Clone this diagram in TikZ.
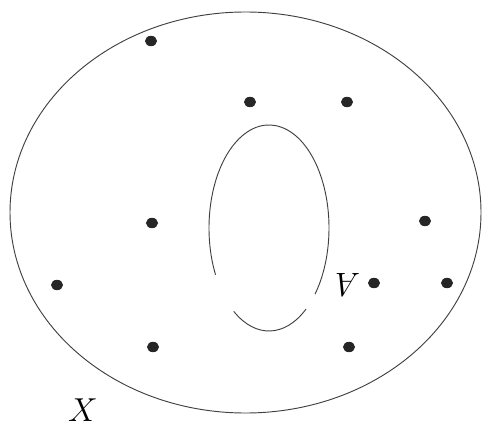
\documentclass[tikz,border=0pt]{standalone}
\usetikzlibrary{calc}
\begin{document}
\begin{tikzpicture}[x=0.75pt,y=-0.75pt,
  curve/.style={draw=black!75,line width=0.7pt},
  pt/.style={fill=black!85},
  lab/.style={font=\fontsize{28}{28}\selectfont, inner sep=0pt}]
\useasboundingbox (0,0) rectangle (484,427);
% outer set X
\draw[curve] (245.5,212.5) ellipse [x radius=235.5, y radius=200.5];
% inner set A (with gaps as in the reference)
\coordinate (c) at (269,228);
\draw[curve] ($(c)+(-207:60 and 103)$) arc[start angle=-207, end angle=40, x radius=60, y radius=103];
\draw[curve] ($(c)+(52:60 and 103)$) arc[start angle=52, end angle=126, x radius=60, y radius=103];
% points
\foreach \n/\x/\y in {p1/151/41, p2/250/102, p3/347/102, p4/152/223, p5/425/221,
  p6/57/285, p7/374/283, p8/447/283, p9/153/347, p10/349/347}
  \fill[pt] (\x,\y) ellipse [x radius=6, y radius=5.2];
% labels
\node[lab] (A) at (348,285) {\rotatebox{180}{$A$}};
\node[lab] (X) at (83,410) {$X$};
\end{tikzpicture}
\end{document}
